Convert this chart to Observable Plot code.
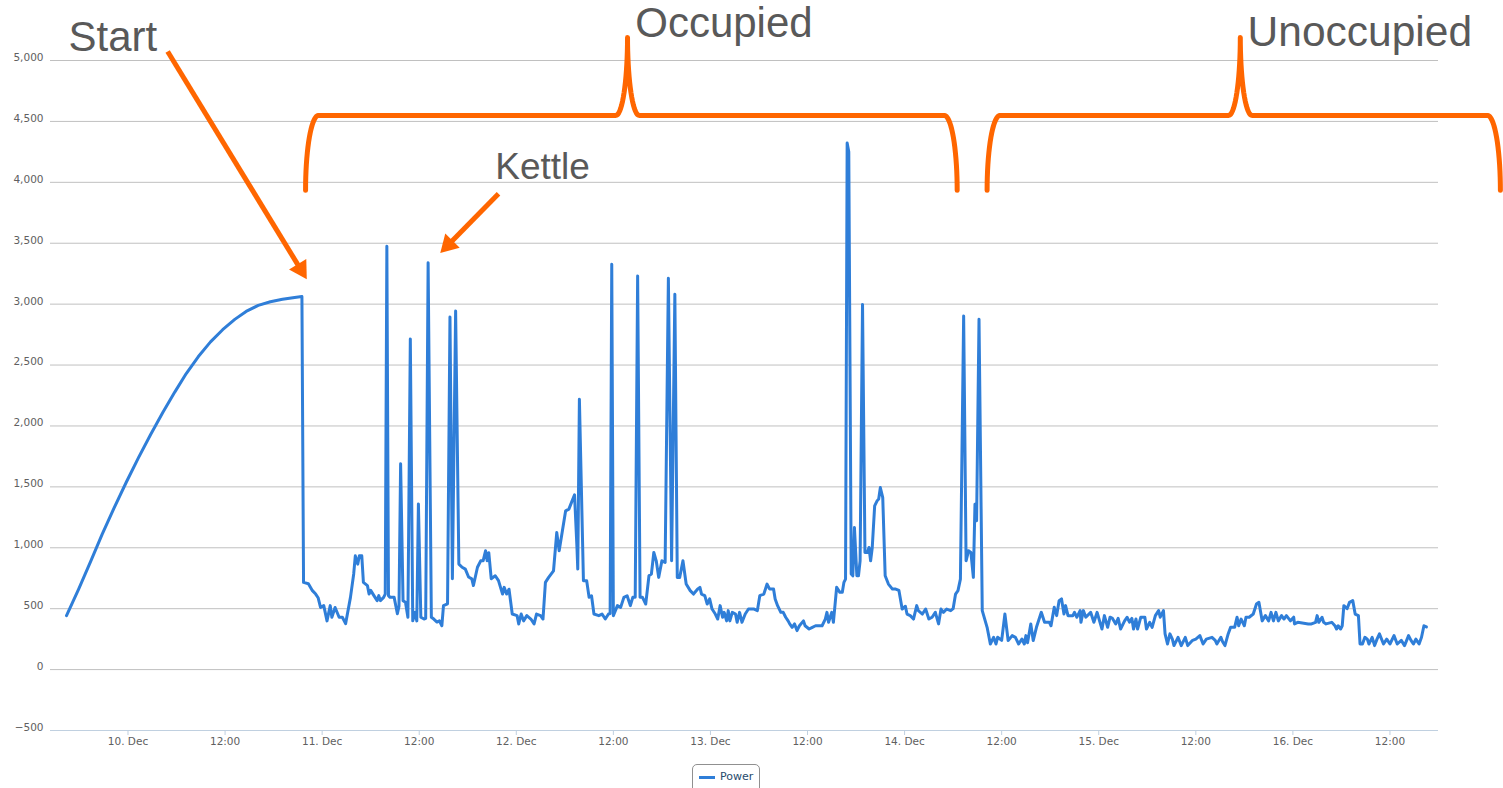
<!DOCTYPE html>
<html>
<head>
<meta charset="utf-8">
<script src="https://cdn.jsdelivr.net/npm/d3@7"></script>
<script src="https://cdn.jsdelivr.net/npm/@observablehq/plot@0.6"></script>
<style>
  html, body { margin: 0; padding: 0; background: #ffffff; }
  body { position: relative; width: 1503px; height: 788px; overflow: hidden; font-family: "DejaVu Sans", Verdana, sans-serif; }
  #chart { position: absolute; left: 0; top: 0; }
  #legend { position: absolute; left: 692px; top: 764px; width: 68px; height: 32px; box-sizing: border-box;
            border: 1px solid #909090; border-radius: 5px; background: #fff; }
  #legend .swatch { position: absolute; left: 6px; top: 11px; width: 16px; height: 3px; background: #2f7ed8; }
  #legend .name { position: absolute; left: 27px; top: 5px; font-size: 11px; color: #274b6d; line-height: 13px; }
</style>
</head>
<body>
<div id="chart"></div>
<div id="legend"><div class="swatch"></div><div class="name">Power</div></div>
<script>
// ---- data: hours after 10 Dec 00:00, power readings (W) ----
const hours = [
  -7.6,-6.1,-4.6,-3.2,-1.7,-0.2,1.3,2.8,4.3,5.8,
  7.2,8.7,10.2,11.7,13.2,14.6,16.1,17.6,19.1,20.6,21.5,
  21.7,22.3,22.8,23.2,23.5,23.8,24.2,24.6,25.0,25.2,
  25.6,26.1,26.5,26.9,27.5,27.9,28.1,28.4,28.6,28.9,
  29.1,29.6,29.8,30.0,30.4,30.8,31.0,31.2,31.6,31.8,
  32.0,32.2,32.4,32.9,33.3,33.5,33.7,34.0,34.3,34.6,
  34.9,35.2,35.5,35.7,35.9,36.2,36.6,36.8,37.1,37.5,
  37.8,38.2,38.5,38.8,39.0,39.5,39.8,40.1,40.5,40.9,
  41.3,41.7,42.1,42.5,42.7,43.2,43.6,43.9,44.2,44.4,
  44.6,44.9,45.4,45.8,46.3,46.5,46.8,47.1,47.5,48.1,
  48.3,48.6,48.9,49.3,49.8,50.2,50.5,51.0,51.3,51.6,
  52.0,52.6,53.0,53.3,53.7,54.1,54.5,54.9,55.2,55.5,
  55.6,55.8,56.3,56.7,57.0,57.3,57.6,58.2,58.6,59.0,
  59.4,59.6,59.8,60.0,60.5,60.9,61.3,61.7,62.1,62.4,
  62.7,63.0,63.3,63.6,64.0,64.4,64.7,65.0,65.3,65.6,
  66.0,66.4,66.8,67.2,67.6,67.9,68.2,68.6,69.0,69.5,
  69.9,70.4,70.7,70.9,71.3,71.6,71.9,72.2,72.6,72.9,
  73.2,73.5,73.7,74.0,74.2,74.4,74.7,75.1,75.3,75.6,
  75.9,76.3,76.7,77.4,77.8,78.1,78.6,79.0,79.3,79.8,
  80.0,80.3,80.7,81.0,81.3,81.6,81.8,82.1,82.4,82.7,
  83.0,83.5,83.7,84.2,84.6,85.0,85.8,86.2,86.4,86.6,
  87.0,87.2,87.6,88.0,88.3,88.5,88.7,88.9,89.1,89.4,
  89.6,89.8,90.1,90.3,90.5,90.8,91.1,91.4,91.6,91.8,
  92.0,92.3,92.6,92.8,93.0,93.3,93.6,94.0,94.5,94.9,
  95.3,95.7,96.1,96.3,96.7,97.1,97.5,97.7,98.2,98.6,
  99.0,99.4,99.8,100.2,100.5,100.8,101.2,101.7,102.0,102.3,
  102.6,102.9,103.3,103.6,103.9,104.2,104.5,104.7,104.9,105.2,
  105.6,106.2,106.6,107.0,107.3,107.5,108.0,108.4,108.8,109.3,
  109.7,110.1,110.5,110.8,111.0,111.2,111.6,111.9,112.3,112.9,
  113.3,113.9,114.1,114.5,114.8,115.1,115.4,115.7,115.9,116.2,
  116.8,117.0,117.3,117.7,117.8,118.1,118.4,119.0,119.4,119.8,
  120.1,120.4,120.7,121.1,121.4,121.7,122.1,122.4,122.7,123.2,
  123.5,123.8,124.1,124.3,124.6,124.8,125.2,125.7,125.9,126.3,
  126.6,127.0,127.4,127.6,128.0,128.2,128.5,128.8,129.1,129.3,
  129.8,130.2,130.7,131.0,131.6,132.0,132.5,132.9,133.3,134.0,
  134.4,134.6,135.1,135.3,135.6,136.0,136.3,136.8,137.1,137.3,
  137.6,138.0,138.2,138.6,139.1,139.5,139.8,140.2,140.6,141.0,
  141.3,141.6,141.9,142.2,142.6,142.9,143.2,143.7,144.1,144.2,
  144.6,145.9,146.3,146.8,147.0,147.2,147.6,147.8,148.1,148.8,
  149.2,149.4,149.6,149.9,150.1,150.3,150.7,151.0,151.4,151.7,
  152.1,152.3,152.6,152.9,153.2,153.4,153.8,154.1,154.4,154.7,
  155.2,155.6,156.0,156.5,156.9,157.4,157.8,158.3,158.6,158.9,
  159.2,159.6,159.9,160.2,160.5
];
const watts = [
  443,660,890,1110,1330,1540,1740,1930,2110,2280,
  2430,2570,2690,2790,2875,2940,2990,3020,3040,3055,3062,
  716,705,648,620,590,510,525,400,525,430,
  510,430,430,377,593,785,934,866,934,934,
  716,689,620,650,607,566,607,566,593,620,
  3475,607,593,593,459,520,1690,566,553,430,
  2713,400,470,400,1360,430,415,420,3340,430,
  415,390,400,360,525,540,2894,745,2943,866,
  840,825,760,745,690,840,893,893,975,893,
  960,746,770,730,620,675,620,660,456,443,
  375,456,400,443,415,375,456,443,415,716,
  757,811,1125,975,1140,1303,1317,1385,1434,1002,
  825,2219,730,730,593,606,456,443,456,415,
  456,460,3328,443,525,511,593,606,525,593,
  593,3230,593,593,538,770,784,961,893,757,
  893,880,3213,893,3082,757,757,893,702,648,
  620,660,675,620,607,538,580,497,456,415,
  525,430,470,400,484,400,470,456,388,470,
  388,456,497,497,484,607,620,702,662,662,
  580,525,470,470,430,400,375,347,375,320,
  360,400,360,333,347,360,360,415,470,388,
  470,388,675,634,634,716,743,4322,4250,784,
  770,1166,770,770,893,2998,961,961,1002,893,
  1000,1344,1385,1400,1494,1412,770,702,661,661,
  650,497,520,456,443,415,525,484,456,497,
  415,430,470,375,497,470,497,484,500,620,
  648,743,2902,893,975,961,757,1358,1221,2875,
  484,347,210,265,210,265,240,456,238,279,
  265,210,251,210,279,220,375,238,347,470,
  388,388,360,511,443,566,580,456,525,443,
  443,470,430,484,388,484,430,470,388,470,
  400,333,443,347,430,420,375,420,333,400,
  430,390,420,333,415,333,430,430,333,388,
  347,443,484,430,484,293,210,293,250,197,
  265,197,265,197,240,250,279,210,250,265,
  240,210,265,230,197,293,347,347,430,360,
  415,360,430,430,456,538,552,400,443,400,
  470,400,470,400,443,415,443,400,430,375,
  388,375,375,388,443,388,430,388,375,388,
  360,333,360,333,360,525,500,552,566,456,
  443,210,210,265,250,210,265,197,250,293,
  210,250,210,279,210,240,197,279,240,210,
  250,210,265,360,350
];

// ---- axes ----
const yTicks = [-500, 0, 500, 1000, 1500, 2000, 2500, 3000, 3500, 4000, 4500, 5000];
const xTickHours = [0, 12, 24, 36, 48, 60, 72, 84, 96, 108, 120, 132, 144, 156];
const xTickLabels = ["10. Dec","12:00","11. Dec","12:00","12. Dec","12:00","13. Dec","12:00",
                     "14. Dec","12:00","15. Dec","12:00","16. Dec","12:00"];
const xDomainHours = [-9.58, 162];

// ---- annotations (data units: hours, watts) ----
const labelTexts = ["Start", "Occupied", "Unoccupied", "Kettle"];
const labelHours = [-7.35, 62.7, 138.4, 45.4];
const labelWatts = [5074, 5197, 5115, 4024];
const labelSizes = [42, 42, 42.5, 37];

const arrowFromHours = [4.9, 45.8];
const arrowFromWatts = [5074, 3907];
const arrowToHours = [22.1, 38.6];
const arrowToWatts = [3204, 3419];

const braceNames = ["Occupied", "Unoccupied"];
const braceLeft = [21.95, 106.2];
const braceRight = [102.5, 169.65];
const braceTip = [61.75, 137.5];
const braceBottom = 3934, braceBar = 4549, braceTop = 5189;
const braceCorner = 1.6, braceTipHalf = 1.45;

// ---- build ----
const baseUTC = Date.UTC(2013, 11, 10);
const t = h => new Date(baseUTC + h * 3600000);
const series = hours.map((h, i) => ({t: t(h), w: watts[i]}));
if (hours.length !== watts.length) console.error("length mismatch", hours.length, watts.length);

const W = 1503, H = 760, mL = 50, mR = 65, mT = 60, mB = 30;
const xDomain = xDomainHours.map(t);
const xs = Plot.scale({x: {type: "utc", domain: xDomain, range: [mL, W - mR]}});
const ys = Plot.scale({y: {type: "linear", domain: [-500, 5000], range: [H - mB, mT]}});

const labelMap = new Map(xTickHours.map((h, i) => [+t(h), xTickLabels[i]]));

// brace outline points
const bracePts = [];
braceNames.forEach((id, k) => {
  const L = braceLeft[k], R = braceRight[k], T = braceTip[k];
  const N = 18, q = Math.PI / 2;
  const push = (h, w) => bracePts.push({id, t: t(h), w});
  for (let i = 0; i <= N; i++) { const a = i / N * q;
    push(L + braceCorner * (1 - Math.cos(a)), braceBottom + (braceBar - braceBottom) * Math.sin(a)); }
  for (let i = 0; i <= N; i++) { const a = i / N * q;
    push(T - braceTipHalf + braceTipHalf * Math.sin(a), braceTop - (braceTop - braceBar) * Math.cos(a)); }
  for (let i = N; i >= 0; i--) { const a = i / N * q;
    push(T + braceTipHalf - braceTipHalf * Math.sin(a), braceTop - (braceTop - braceBar) * Math.cos(a)); }
  for (let i = N; i >= 0; i--) { const a = i / N * q;
    push(R - braceCorner * (1 - Math.cos(a)), braceBottom + (braceBar - braceBottom) * Math.sin(a)); }
});

// arrows with filled triangular heads
const headR = 7.5;
const tipDist = 2 * Math.sqrt(headR * headR * Math.PI / (Math.sqrt(3) * 3));
const arrows = arrowToHours.map((h, i) => {
  const x1 = xs.apply(t(arrowFromHours[i])), y1 = ys.apply(arrowFromWatts[i]);
  const x2 = xs.apply(t(h)), y2 = ys.apply(arrowToWatts[i]);
  const len = Math.hypot(x2 - x1, y2 - y1), ux = (x2 - x1) / len, uy = (y2 - y1) / len;
  const cx = x2 - ux * tipDist, cy = y2 - uy * tipDist;
  return {
    x1: t(arrowFromHours[i]), y1: arrowFromWatts[i],
    x2: xs.invert(cx), y2: ys.invert(cy),
    angle: Math.atan2(ux, -uy) * 180 / Math.PI
  };
});

const labels = labelTexts.map((s, i) => ({text: s, x: t(labelHours[i]), y: labelWatts[i], size: labelSizes[i]}));
const annFont = "'Liberation Sans', Arial, Helvetica, sans-serif";
const orange = "#ff6600";

const textMarks = labelSizes.map((s, i) =>
  Plot.text([labels[i]], {x: "x", y: "y", text: "text", textAnchor: "start", lineAnchor: "bottom",
    fontSize: s, fill: "#595959", fontFamily: annFont}));

const chart = Plot.plot({
  width: W, height: H,
  marginLeft: mL, marginRight: mR, marginTop: mT, marginBottom: mB,
  x: {type: "utc", domain: xDomain},
  y: {type: "linear", domain: [-500, 5000]},
  style: {fontFamily: "'DejaVu Sans', Verdana, sans-serif", fontSize: "10.5px", background: "transparent", overflow: "visible"},
  marks: [
    Plot.gridY(yTicks.filter(d => d !== -500), {stroke: "#c0c0c0", strokeOpacity: 1}),
    Plot.ruleY([-500], {stroke: "#c0d0e0", strokeWidth: 1}),
    Plot.axisY(yTicks, {tickSize: 0, tickPadding: 7, fill: "#606060", tickFormat: d3.format(","), label: null, dy: -3}),
    Plot.axisX(xTickHours.map(t), {tickSize: 5, tickPadding: 2, stroke: "#c0d0e0", fill: "#606060",
      tickFormat: d => labelMap.get(+d), label: null}),
    Plot.line(series, {x: "t", y: "w", stroke: "#2f7ed8", strokeWidth: 3, strokeLinejoin: "round", strokeLinecap: "round"}),
    Plot.line(bracePts, {x: "t", y: "w", z: "id", stroke: orange, strokeWidth: 5, strokeLinejoin: "round"}),
    Plot.link(arrows, {x1: "x1", y1: "y1", x2: "x2", y2: "y2", stroke: orange, strokeWidth: 5}),
    Plot.dot(arrows, {x: "x2", y: "y2", symbol: "triangle", r: headR, fill: orange, stroke: null, rotate: "angle"}),
    ...textMarks
  ]
});
document.getElementById("chart").appendChild(chart);
</script>
</body>
</html>
